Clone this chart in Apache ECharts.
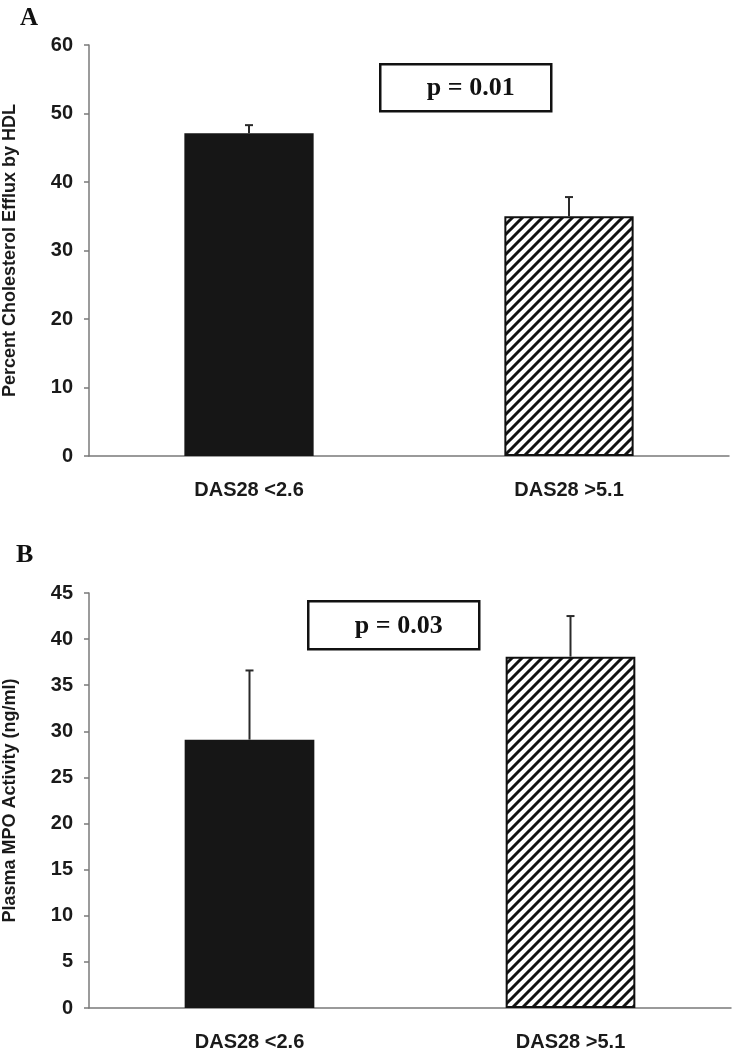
<!DOCTYPE html>
<html>
<head>
<meta charset="utf-8">
<script src="https://cdn.jsdelivr.net/npm/echarts@6/dist/echarts.min.js"></script>
<style>
html,body{margin:0;padding:0;background:#fff;}
#chart{width:734px;height:1050px;}
</style>
</head>
<body>
<div id="chart"></div>
<script>
// ---- data ----
var categories = ['DAS28 <2.6', 'DAS28 >5.1'];
var meansA = [47.1, 35.0];
var errA = [1.2, 2.8];
var meansB = [29.1, 38.1];
var errB = [7.5, 4.4];
var ticksA = [0, 10, 20, 30, 40, 50, 60];
var ticksB = [0, 5, 10, 15, 20, 25, 30, 35, 40, 45];
var titleA = 'Percent Cholesterol Efflux by HDL';
var titleB = 'Plasma MPO Activity (ng/ml)';
var pA = 'p = 0.01';
var pB = 'p = 0.03';

// ---- hatch pattern ----
var pc = document.createElement('canvas');
pc.width = 10; pc.height = 10;
var g = pc.getContext('2d');
g.fillStyle = '#ffffff'; g.fillRect(0, 0, 10, 10);
g.strokeStyle = '#111111'; g.lineWidth = 3; g.lineCap = 'square';
g.beginPath();
g.moveTo(-2, 12); g.lineTo(12, -2);
g.moveTo(-2, 2); g.lineTo(2, -2);
g.moveTo(8, 12); g.lineTo(12, 8);
g.stroke();
var hatch = { image: pc, repeat: 'repeat' };

function barData(vals) {
  return vals.map(function (v, i) {
    return i === 0
      ? { value: v, itemStyle: { color: '#161616', borderWidth: 0 } }
      : { value: v, itemStyle: { color: hatch, borderColor: '#111', borderWidth: 2 } };
  });
}
function errData(vals, errs) {
  return vals.map(function (v, i) { return [i, v, v + errs[i]]; });
}
function errRender(params, api) {
  var x = api.value(0);
  var p0 = api.coord([x, api.value(1)]);
  var p1 = api.coord([x, api.value(2)]);
  var st = { stroke: '#2a2a2a', lineWidth: 2 };
  return {
    type: 'group',
    children: [
      { type: 'line', shape: { x1: p0[0], y1: p0[1], x2: p1[0], y2: p1[1] }, style: st },
      { type: 'line', shape: { x1: p1[0] - 4, y1: p1[1], x2: p1[0] + 4, y2: p1[1] }, style: st }
    ]
  };
}

var axisGray = '#7a7a7a';
var sans = '"Liberation Sans", Arial, sans-serif';
var tickFont = { fontFamily: sans, fontWeight: 'bold', fontSize: 20, color: '#1a1a1a' };
var catFont = { fontFamily: sans, fontWeight: 'bold', fontSize: 20, color: '#1a1a1a' };

function xAx(gi) {
  return {
    type: 'category', gridIndex: gi, data: categories,
    axisLine: { lineStyle: { color: axisGray, width: 1.5 } },
    axisTick: { length: 6, lineStyle: { color: axisGray, width: 1.5 } },
    axisLabel: Object.assign({ margin: 24 }, catFont)
  };
}
function yAx(gi, max, step, name) {
  return {
    type: 'value', gridIndex: gi, min: 0, max: max, interval: step,
    name: name, nameLocation: 'middle', nameGap: 70,
    nameTextStyle: { fontFamily: sans, fontWeight: 'bold', fontSize: 18, color: '#1a1a1a' },
    axisLine: { show: true, lineStyle: { color: axisGray, width: 1.5 } },
    axisTick: { show: true, length: 5, lineStyle: { color: axisGray, width: 1.5 } },
    splitLine: { show: false },
    axisLabel: Object.assign({ margin: 16 }, tickFont)
  };
}

function pBox(x, y, w, h, txt) {
  return {
    type: 'group', left: x, top: y,
    children: [
      { type: 'rect', shape: { x: 0, y: 0, width: w, height: h }, style: { fill: '#fff', stroke: '#111', lineWidth: 2.5 } },
      { type: 'text', x: w / 2 + 5, y: h / 2 + 1, style: { text: txt, align: 'center', verticalAlign: 'middle', font: 'bold 26px "Liberation Serif", "Times New Roman", serif', fill: '#111' } }
    ]
  };
}

var chart = echarts.init(document.getElementById('chart'));
chart.setOption({
  animation: false,
  backgroundColor: '#fff',
  grid: [
    { left: 89, right: 5, top: 45, height: 411, outerBoundsMode: 'none', containLabel: false },
    { left: 89, right: 3, top: 593, height: 415, outerBoundsMode: 'none', containLabel: false }
  ],
  xAxis: [xAx(0), xAx(1)],
  yAxis: [yAx(0, ticksA[ticksA.length - 1], ticksA[1] - ticksA[0], titleA),
          yAx(1, ticksB[ticksB.length - 1], ticksB[1] - ticksB[0], titleB)],
  series: [
    { type: 'bar', xAxisIndex: 0, yAxisIndex: 0, barWidth: '40.4%', data: barData(meansA), z: 2 },
    { type: 'custom', xAxisIndex: 0, yAxisIndex: 0, renderItem: errRender, data: errData(meansA, errA), z: 3 },
    { type: 'bar', xAxisIndex: 1, yAxisIndex: 1, barWidth: '40.4%', data: barData(meansB), z: 2 },
    { type: 'custom', xAxisIndex: 1, yAxisIndex: 1, renderItem: errRender, data: errData(meansB, errB), z: 3 }
  ],
  graphic: [
    { type: 'text', left: 20, top: 6, style: { text: 'A', font: 'bold 25px "Liberation Serif", "Times New Roman", serif', fill: '#111' } },
    { type: 'text', left: 16, top: 542, style: { text: 'B', font: 'bold 26px "Liberation Serif", "Times New Roman", serif', fill: '#111' } },
    pBox(379, 63, 171, 47, pA),
    pBox(307, 600, 171, 48, pB)
  ]
});
</script>
</body>
</html>
